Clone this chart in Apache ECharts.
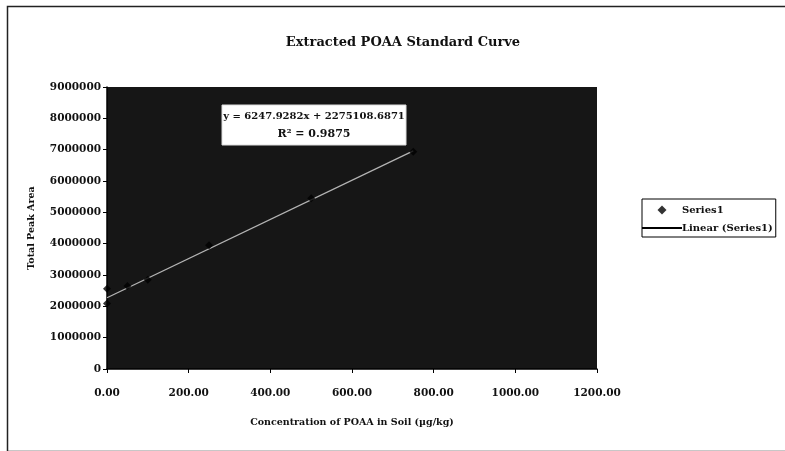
<!DOCTYPE html>
<html>
<head>
<meta charset="utf-8">
<script src="https://cdn.jsdelivr.net/npm/echarts@6/dist/echarts.min.js"></script>
<style>html,body{margin:0;padding:0;background:#fff;}#c{width:785px;height:451px;}</style>
</head>
<body>
<div id="c"></div>
<script>
const titleText = 'Extracted POAA Standard Curve';
const xAxisName = 'Concentration of POAA in Soil (µg/kg)';
const yAxisName = 'Total Peak Area';
const seriesName = 'Series1';
const trendName = 'Linear (Series1)';
const concentrations = [0, 0, 50, 100, 250, 500, 750];
const peakAreas = [2560000, 2090000, 2650000, 2850000, 3950000, 5450000, 6930000];
const slope = 6247.9282;
const intercept = 2275108.6871;
const rSquared = 0.9875;
const xTicks = [0, 200, 400, 600, 800, 1000, 1200];
const yTicks = [0, 1000000, 2000000, 3000000, 4000000, 5000000, 6000000, 7000000, 8000000, 9000000];

const scatterData = concentrations.map((x, i) => [x, peakAreas[i]]);
const xMin = Math.min(...concentrations), xMax = Math.max(...concentrations);
const trendData = [[xMin, slope * xMin + intercept], [xMax, slope * xMax + intercept]];

const font = 'DejaVu Serif';
const chart = echarts.init(document.getElementById('c'));
chart.setOption({
  backgroundColor: '#fff',
  animation: false,
  title: {
    text: titleText, left: 398, top: 31, textAlign: 'center',
    textStyle: { fontFamily: font, fontWeight: 'bold', fontSize: 13, color: '#111' }
  },
  grid: { left: 107, right: 188, top: 87, bottom: 82, show: true, backgroundColor: '#161616', borderWidth: 0 },
  legend: {
    orient: 'vertical', left: 642, top: 199,
    itemWidth: 40, itemHeight: 9, itemGap: 8,
    padding: [6, 3, 4, 0],
    borderColor: '#000', borderWidth: 1, backgroundColor: '#fff',
    textStyle: { fontFamily: font, fontWeight: 'bold', fontSize: 10, color: '#111', padding: [0, 0, 0, -5] },
    data: [
      { name: seriesName, icon: 'path://M0,0L0,0M40,10L40,10M20,0L25,5L20,10L15,5Z', itemStyle: { color: '#000' } },
      { name: trendName, icon: 'path://M0,0L40,0L40,2L0,2Z', itemStyle: { color: '#000' }, lineStyle: { color: '#000' } }
    ]
  },
  xAxis: {
    type: 'value', min: 0, max: 1200, interval: 200,
    name: xAxisName, nameLocation: 'middle', nameGap: 49,
    nameTextStyle: { fontFamily: font, fontWeight: 'bold', fontSize: 9.5, color: '#111' },
    axisLine: { show: true, lineStyle: { color: '#000', width: 1.5 } },
    axisTick: { show: true, inside: false, length: 4, lineStyle: { color: '#000' } },
    axisLabel: { margin: 19, fontFamily: font, fontWeight: 'bold', fontSize: 10.5, color: '#111',
      customValues: xTicks, formatter: v => v.toFixed(2) },
    splitLine: { show: false }
  },
  yAxis: {
    type: 'value', min: 0, max: 9000000, interval: 1000000,
    name: yAxisName, nameLocation: 'middle', nameGap: 70, nameRotate: 90,
    nameTextStyle: { fontFamily: font, fontWeight: 'bold', fontSize: 9.5, color: '#111' },
    axisLine: { show: true, lineStyle: { color: '#000', width: 1.5 } },
    axisTick: { show: true, inside: false, length: 4, lineStyle: { color: '#000' } },
    axisLabel: { margin: 6, fontFamily: font, fontWeight: 'bold', fontSize: 10.5, color: '#111',
      customValues: yTicks, formatter: v => String(v) },
    splitLine: { show: false }
  },
  graphic: [
    { type: 'rect', left: 5, top: 4, shape: { width: 790, height: 445 }, style: { fill: 'none', stroke: '#222', lineWidth: 1.5 }, z: 100, silent: true },
    { type: 'rect', x: 222, y: 105, shape: { width: 184, height: 40 }, style: { fill: '#fff', stroke: '#ddd' }, z: 50 },
    { type: 'text', x: 314, y: 111, style: { text: 'y = ' + slope.toFixed(4) + 'x + ' + intercept.toFixed(4), align: 'center', fill: '#111', font: 'bold 10px "DejaVu Serif"' }, z: 51 },
    { type: 'text', x: 314, y: 129, style: { text: 'R² = ' + rSquared.toFixed(4), align: 'center', fill: '#111', font: 'bold 11px "DejaVu Serif"' }, z: 51 }
  ],
  series: [
    { name: seriesName, type: 'scatter', data: scatterData, symbol: 'diamond', symbolSize: 8, clip: false,
      itemStyle: { color: '#000' }, z: 5 },
    { name: trendName, type: 'line', data: trendData, showSymbol: false, symbol: 'none',
      lineStyle: { color: '#b4b4b4', width: 1.3 }, itemStyle: { color: '#000' }, z: 4 }
  ]
});
</script>
</body>
</html>
